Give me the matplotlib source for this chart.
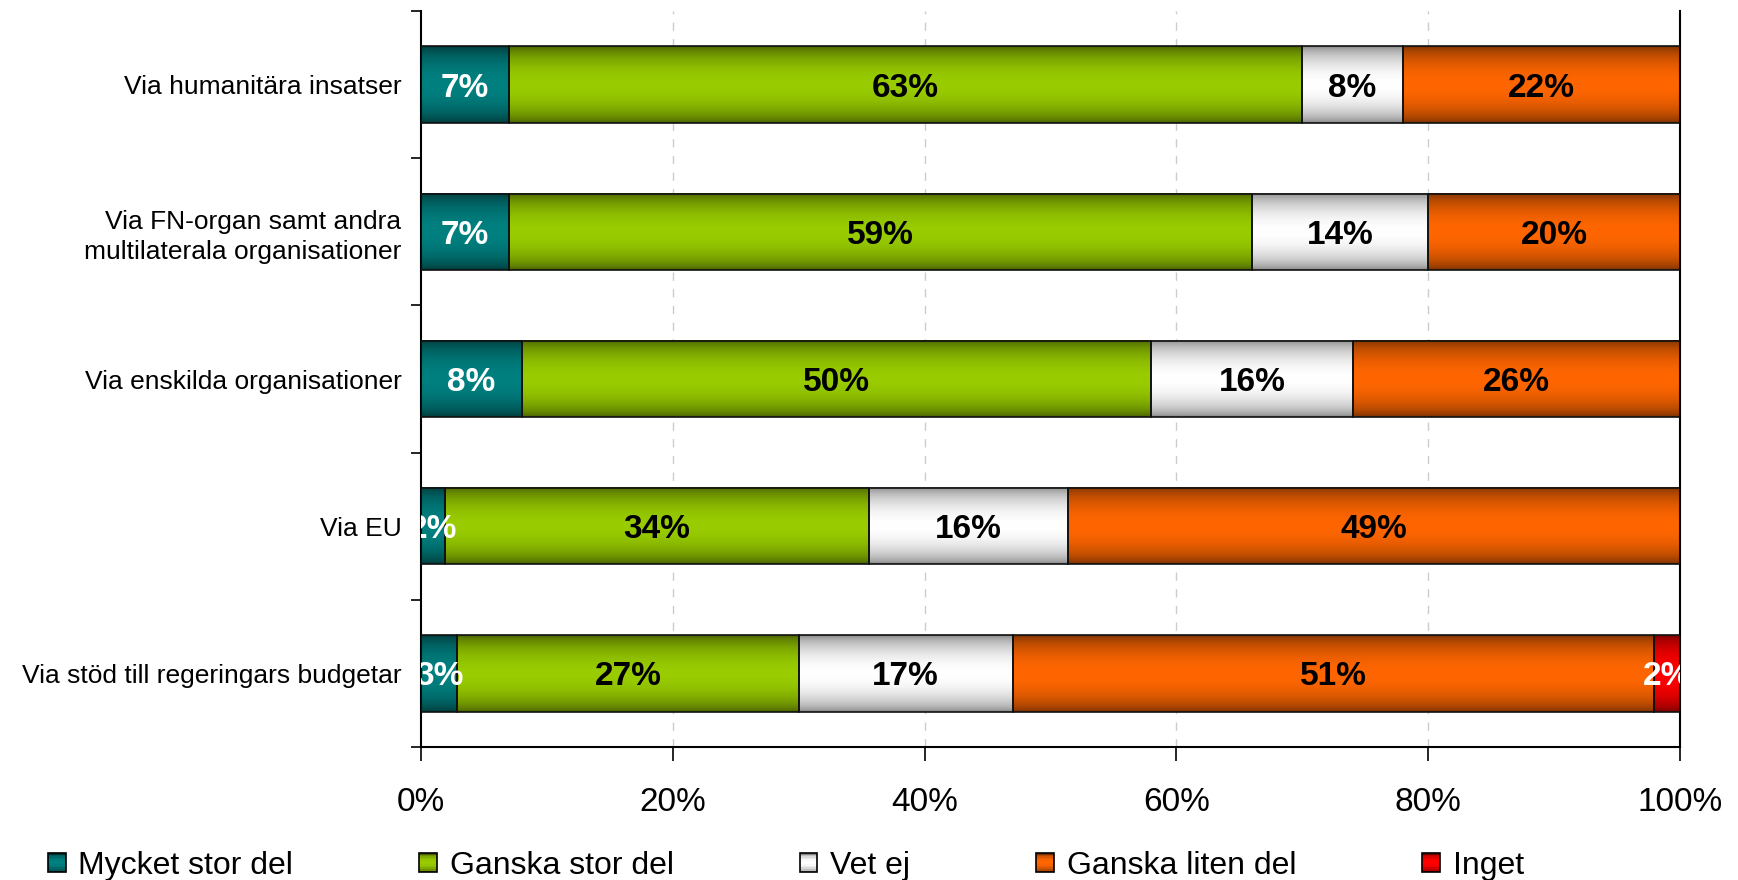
import numpy as np
import matplotlib
matplotlib.use("Agg")
import matplotlib.pyplot as plt
from matplotlib.patches import Rectangle
from matplotlib.legend_handler import HandlerBase
from matplotlib.colors import to_rgb

plt.rcParams['font.family'] = ['Liberation Sans', 'DejaVu Sans']

categories = [
    "Via humanitära insatser",
    "Via FN-organ samt andra\nmultilaterala organisationer",
    "Via enskilda organisationer",
    "Via EU",
    "Via stöd till regeringars budgetar",
]
series_names = ["Mycket stor del", "Ganska stor del", "Vet ej", "Ganska liten del", "Inget"]
mycket_stor = [7, 7, 8, 1.9, 2.9]
ganska_stor = [63, 59, 50, 33.7, 27.1]
vet_ej = [8, 14, 16, 15.8, 17.0]
ganska_liten = [22, 20, 26, 48.6, 50.9]
inget = [0, 0, 0, 0, 2.1]
x_ticks = [0, 20, 40, 60, 80, 100]

series = [mycket_stor, ganska_stor, vet_ej, ganska_liten, inget]
# (bright centre, dark edge) for the shaded bars
colours = [
    ("#008080", "#003838"),
    ("#99cc00", "#465e00"),
    ("#ffffff", "#858585"),
    ("#ff6600", "#763000"),
    ("#ff0000", "#760000"),
]
text_colours = ["white", "black", "black", "black", "white"]


def gradient(bright, dark, n=64):
    t = np.linspace(0, 1, n)
    g = np.sin(np.pi * t) ** 0.6
    b = np.array(to_rgb(bright))
    d = np.array(to_rgb(dark))
    return d[None, :] + (b - d)[None, :] * g[:, None]


class GradientHandler(HandlerBase):
    def __init__(self, bright, dark):
        super().__init__()
        self.bright = bright
        self.dark = dark

    def create_artists(self, legend, orig_handle, xdescent, ydescent,
                       width, height, fontsize, trans):
        cols = gradient(self.bright, self.dark, 12)
        arts = []
        n = len(cols)
        for i, c in enumerate(cols):
            r = Rectangle((-xdescent, -ydescent + height * i / n), width, height / n + 0.3,
                          facecolor=c, edgecolor='none', transform=trans)
            arts.append(r)
        arts.append(Rectangle((-xdescent, -ydescent), width, height, facecolor='none',
                              edgecolor='black', linewidth=1.2, transform=trans))
        return arts


fig = plt.figure(figsize=(17.38, 8.8), dpi=100)
ax = fig.add_axes([0.2422, 0.1511, 0.9666 - 0.2422, 0.9875 - 0.1511])

y = np.arange(len(categories))
h = 0.52
left = np.zeros(len(categories))
for k, vals in enumerate(series):
    vals = np.array(vals, dtype=float)
    grad = gradient(*colours[k])[:, None, :]
    for i in range(len(categories)):
        if vals[i] <= 0:
            continue
        ax.imshow(grad, extent=(left[i], left[i] + vals[i], y[i] - h / 2, y[i] + h / 2),
                  aspect='auto', origin='lower', interpolation='bilinear', zorder=2)
        ax.text(left[i] + vals[i] / 2, y[i], f"{round(vals[i]):.0f}%", ha='center',
                va='center_baseline', fontsize=24, fontweight='bold', color=text_colours[k],
                zorder=5, clip_on=True)
    ax.barh(y, vals, left=left, height=h, fill=False, edgecolor='#111111', linewidth=1.2, zorder=3)
    left += vals

ax.set_xlim(0, 100)
ax.set_ylim(len(categories) - 0.5, -0.5)
ax.set_xticks(x_ticks)
ax.set_xticklabels([f"{t}%" for t in x_ticks], fontsize=24)
ax.set_yticks(y)
ax.set_yticklabels(categories, fontsize=19, linespacing=1.3)
ax.set_yticks(np.arange(-0.5, len(categories)), minor=True)
ax.tick_params(axis='y', which='major', length=0, pad=14)
ax.tick_params(axis='y', which='minor', length=7, width=1.2)
ax.tick_params(axis='x', length=10, width=1.2, pad=19)

for x in x_ticks[1:-1]:
    ax.axvline(x, color='#cccccc', linestyle=(0, (6, 6)), linewidth=1, zorder=0)

ax.spines['top'].set_visible(False)
for s in ['left', 'bottom', 'right']:
    ax.spines[s].set_linewidth(1.5)
    ax.spines[s].set_color('black')

proxies = [Rectangle((0, 0), 1, 1) for _ in series_names]
hmap = {p: GradientHandler(*colours[k]) for k, p in enumerate(proxies)}
fig.legend(proxies, series_names, handler_map=hmap, ncol=5, loc='center left',
           bbox_to_anchor=(0.0276, 0.016), frameon=False, fontsize=23,
           handlelength=0.55, handleheight=0.55, handletextpad=0.4,
           columnspacing=3.95, borderpad=0, borderaxespad=0)

fig.savefig("out.png", dpi=100)
